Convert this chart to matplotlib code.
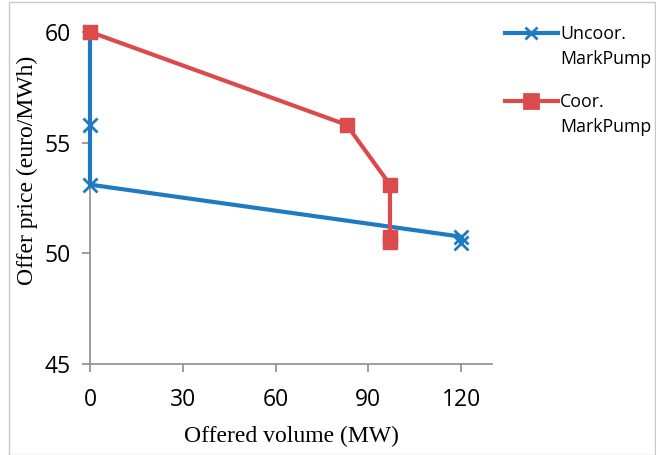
import matplotlib
matplotlib.use('Agg')
import matplotlib.pyplot as plt
from matplotlib.lines import Line2D
from matplotlib.patches import Rectangle

# offer curves (volume MW, price euro/MWh)
uncoor_vol = [0, 0, 0, 120, 120]
uncoor_price = [60.0, 55.8, 53.1, 50.75, 50.45]
coor_vol = [0, 83, 97, 97, 97]
coor_price = [60.0, 55.8, 53.1, 50.75, 50.5]

xticks = [0, 30, 60, 90, 120]
yticks = [45, 50, 55, 60]

blue = '#1f7bc1'
red = '#dc4b4b'
gray = '#8c8c8c'

fig = plt.figure(figsize=(6.56, 4.55), dpi=100)
ax = fig.add_axes([90/656, 0.2, 402/656, 0.73])

#uncoordinated first so red sits on top
ax.plot(uncoor_vol, uncoor_price, color=blue, lw=3, marker='x', ms=9.5, mew=2,
        zorder=3, clip_on=False)
ax.plot(coor_vol, coor_price, color=red, lw=3, marker='s', ms=10.5,
        zorder=4, clip_on=False)

ax.set_xlim(0, 130)
ax.set_ylim(45, 60)
ax.set_xticks(xticks)
ax.set_yticks(yticks)
ax.spines['top'].set_visible(False)
ax.spines['right'].set_visible(False)
for s in ['left', 'bottom']:
    ax.spines[s].set_color(gray)
    ax.spines[s].set_linewidth(1.2)
ax.tick_params(colors=gray, labelcolor='black', length=6, width=1.2, labelsize=16.5)
ax.tick_params(axis='x', pad=11)
ax.tick_params(axis='y', pad=8)
for lbl in ax.get_xticklabels() + ax.get_yticklabels():
    lbl.set_family('Open Sans')

ax.set_xlabel('Offered volume (MW)', family='Liberation Serif', fontsize=17)
ax.set_ylabel('Offer price (euro/MWh)', family='Liberation Serif', fontsize=17)
ax.xaxis.set_label_coords(0.5, -0.217)
ax.xaxis.label.set_va('center')
ax.yaxis.set_label_coords(-0.155, 0.584)
ax.yaxis.label.set_va('center')

#legend drawn by hand: handle sits on first text line
W, H = 656.0, 455.0
legend_items = [(blue, 'x', 'Uncoor.\nMarkPump', 33), (red, 's', 'Coor.\nMarkPump', 101)]
for col, mk, txt, ypx in legend_items:
    y = 1 - ypx / H
    ms = 9 if mk == 'x' else 10
    fig.add_artist(Line2D([505/W, 531/W, 558/W], [y, y, y], color=col, lw=3,
                          marker=mk, ms=ms, mew=2, markevery=[1]))
    fig.text(560/W, y + 8/H, txt, family='Open Sans', fontsize=12.8, va='top',
             linespacing=1.5)

#image border
fig.patches.append(Rectangle((9/W, 0.0), 1 - 9/W - 0.001, 0.996, transform=fig.transFigure,
                             fill=False, edgecolor='#c8c8c8', lw=1))

plt.savefig('out.png', dpi=100)
